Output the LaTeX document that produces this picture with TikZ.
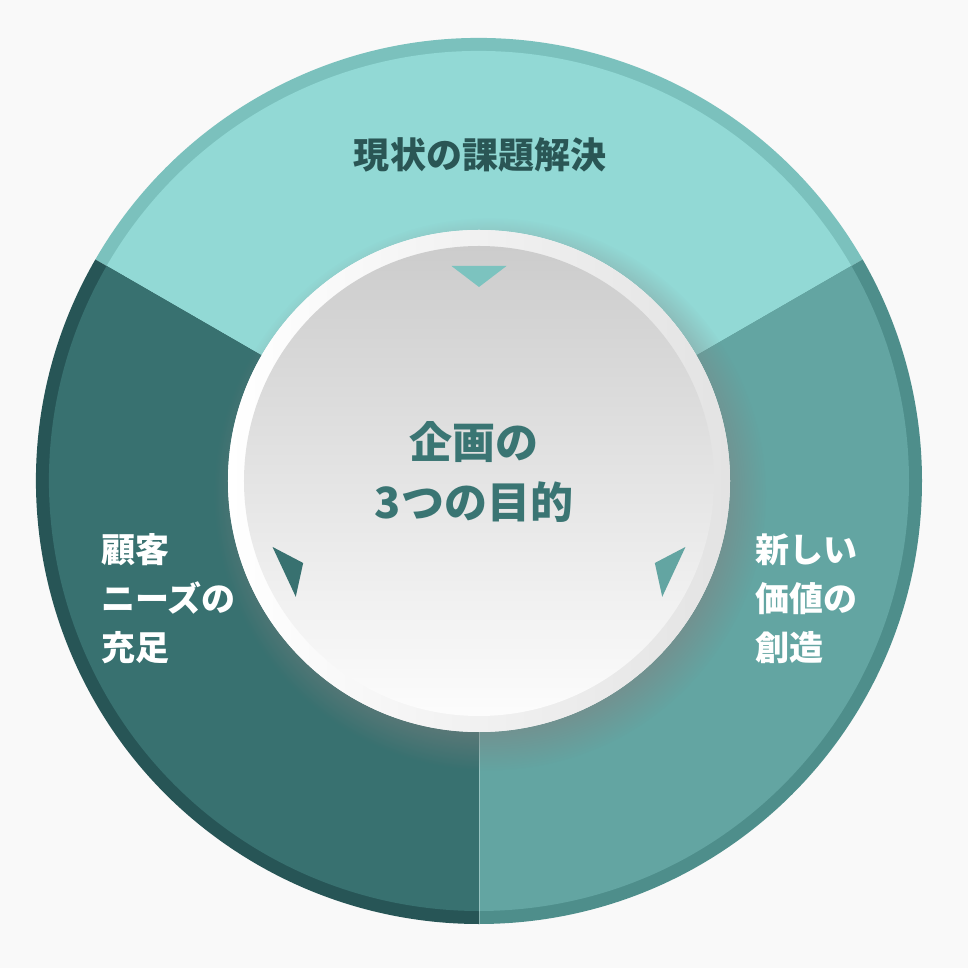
\documentclass[tikz,border=0pt]{standalone}
\usepackage{fontspec}
\setmainfont{Noto Sans CJK JP}
\usepackage{tikz}
\usetikzlibrary{shadows,fadings}
\definecolor{pagebg}{HTML}{F9F9F9}
\definecolor{topfill}{HTML}{92D9D5}
\definecolor{toprim}{HTML}{7BC1BD}
\definecolor{lefttfill}{HTML}{387170}
\definecolor{leftrim}{HTML}{275556}
\definecolor{rightfill}{HTML}{63A5A2}
\definecolor{rightrim}{HTML}{4E8E8B}
\definecolor{toptext}{HTML}{2A5655}
\definecolor{hubtext}{HTML}{3A7573}
\definecolor{toptri}{HTML}{7CC3BF}

\begin{document}
\begin{tikzpicture}[x=0.5pt, y=0.5pt,
    ring/.style={left color=white, right color=black!11},
    hub/.style={top color=black!20, bottom color=black!1},
    sidelabel/.style={font=\bfseries\fontsize{17}{24.5}\selectfont, text=white, align=left, anchor=west, inner sep=0pt},
    hublabel/.style={font=\bfseries\fontsize{21.5}{30}\selectfont, text=hubtext, align=center, inner sep=0pt}
]

\useasboundingbox (-479,-487) rectangle (489,481);
\fill[pagebg] (-479,-487) rectangle (489,481);

% three sectors, rim first
\fill[toprim] (0,0) -- (30:443) arc[start angle=30, end angle=150, radius=443] -- cycle;
\fill[topfill] (0,0) -- (30:430) arc[start angle=30, end angle=150, radius=430] -- cycle;
\fill[leftrim] (0,0) -- (150:443) arc[start angle=150, end angle=270, radius=443] -- cycle;
\fill[lefttfill] (0,0) -- (150:430) arc[start angle=150, end angle=270, radius=430] -- cycle;
\fill[rightrim] (0,0) -- (270:443) arc[start angle=270, end angle=390, radius=443] -- cycle;
\fill[rightfill] (0,0) -- (270:430) arc[start angle=270, end angle=390, radius=430] -- cycle;
\draw[white, opacity=0.35, line width=0.4pt] (0,0) -- (270:443);

% centre disc
\path[fill=white, circular drop shadow={shadow xshift=5pt, shadow yshift=-6pt, shadow scale=1.1, opacity=0.5}] (0,0) circle[radius=251];
\shade[ring] (0,0) circle[radius=251];
\shade[hub] (0,0) circle[radius=235];

\foreach \ang/\col in {0/toptri, 115/lefttfill, -115/rightfill}
  \fill[\col, rotate=\ang] (-27.5,215) -- (27.5,215) -- (0,194) -- cycle;

\node[font=\bfseries\fontsize{18}{22}\selectfont, text=toptext] (topic) at (1,326) {現状の課題解決};
\node[hublabel] (hubtitle) at (-5,9) {企画の\\3つの目的};
\node[sidelabel] (needs) at (-378,-118) {顧客\\ニーズの\\充足};
\node[sidelabel] (value) at (276,-118) {新しい\\価値の\\創造};

\end{tikzpicture}
\end{document}
